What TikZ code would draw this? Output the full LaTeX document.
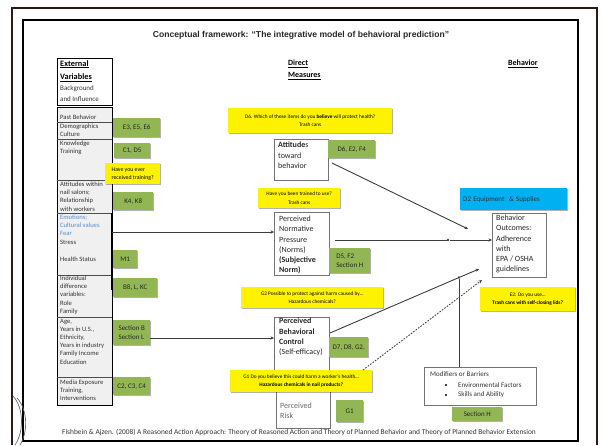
\documentclass[tikz,border=0pt]{standalone}
\usepackage{fontspec}
\setmainfont{Carlito}
\newfontfamily\arialf{Liberation Sans}
\usetikzlibrary{arrows.meta,shadows}
\definecolor{gcol}{RGB}{146,182,84}
\definecolor{bcol}{RGB}{0,176,240}
\definecolor{lgray}{RGB}{240,240,240}
\definecolor{bluet}{RGB}{84,141,212}
\definecolor{framec}{RGB}{45,25,25}
\definecolor{linec}{RGB}{60,60,60}
\begin{document}
\begin{tikzpicture}[x=1pt,y=-1pt]
\tikzset{
  shadowed/.style={drop shadow={shadow xshift=1pt,shadow yshift=-1pt,opacity=0.3,fill=black}},
  gbox/.style={shadowed, fill=gcol, anchor=north west, inner sep=0pt, font=\fontsize{7}{9}\selectfont, align=center, text=black!85},
  ybox/.style={shadowed, fill=yellow, anchor=north west, inner sep=0pt, font=\fontsize{5.3}{8.5}\selectfont, align=center},
  wbox/.style={draw=black!55, line width=0.6pt, fill=white, anchor=north west, inner sep=0pt},
  ltext/.style={anchor=north west, inner sep=0pt, font=\fontsize{6.6}{8.2}\selectfont, align=left, text=black!80},
  btext/.style={anchor=north west, inner sep=0pt, font=\fontsize{8}{10.2}\selectfont, align=left, text=black!85},
  conn/.style={draw=linec, line width=0.9pt},
  arr/.style={conn, -{Stealth[length=3.5pt,width=3.2pt]}},
  jdot/.style={circle, fill=linec, inner sep=0pt, minimum size=2.6pt},
  bdot/.style={circle, fill=black, inner sep=0pt, minimum size=2.4pt}
}
\useasboundingbox (0,0) rectangle (602,445);
% slide frame
\draw[framec, line width=2pt] (12,445) -- (12,8) -- (597,8) -- (597,445);
\draw[black, line width=1.3pt] (23,20) rectangle (578,441);
\draw[black!60, line width=0.7pt] (13,396) .. controls (24,408) and (24,432) .. (15,445);
\draw[black!60, line width=0.7pt] (17,398) .. controls (28,410) and (28,432) .. (20,445);

% title
\node[font=\arialf\bfseries\fontsize{8.6}{10}\selectfont, text=black!85] (title) at (301,35) {Conceptual framework: “The integrative model of behavioral prediction”};

% left column
\node[draw, line width=1.4pt, fill=white, anchor=north west, inner sep=0pt, minimum width=55pt, minimum height=47pt] (exthead) at (57,58) {};
\node[draw, line width=1.4pt, fill=lgray, anchor=north west, inner sep=0pt, minimum width=55pt, minimum height=298pt] (extcol) at (57,107) {};
\foreach \yy in {122,139,180,213,275,317,377}
  \draw[black!70, line width=0.6pt] (57,\yy) -- (112,\yy);
\draw[black, line width=1.6pt] (112,213) -- (112,290);

\node[anchor=north west, inner sep=0pt, font=\bfseries\fontsize{8.3}{13.5}\selectfont, align=left] (exth1) at (60,60) {\underline{External}\\\underline{Variables}};
\node[anchor=north west, inner sep=0pt, font=\fontsize{7}{11}\selectfont, align=left, text=black!80] (exth2) at (60,85.5) {Background\\and Influence};

\node[ltext] (t1) at (60,114.7) {Past Behavior};
\node[ltext] (t2) at (60,123.7) {Demographics\\Culture};
\node[ltext] (t3) at (60,140.7) {Knowledge\\Training};
\node[ltext] (t4) at (60,181.7) {Attitudes within\\nail salons;\\Relationship\\with workers};
\node[ltext] (t5) at (60,214.7) {{\color{bluet}Emotions;}\\{\color{bluet}Cultural values}\\{\color{bluet}Fear}\\Stress};
\node[ltext] (t6) at (60,256.7) {Health Status};
\node[ltext] (t7) at (60,275.7) {Individual\\difference\\variables:\\Role\\Family};
\node[ltext] (t8) at (60,318.7) {Age,\\Years in U.S.,\\Ethnicity,\\Years in industry\\Family Income\\Education};
\node[ltext] (t9) at (60,379.7) {Media Exposure\\Training,\\Interventions};

% left green / yellow boxes
\node[gbox, minimum width=47pt, minimum height=19pt] (gE) at (113,118) {E3, E5, E6};
\node[gbox, minimum width=36pt, minimum height=15pt] (gC) at (114,143) {C1, D5};
\node[ybox, minimum width=55pt, minimum height=21pt, font=\fontsize{5.8}{8}\selectfont, align=left] (yTr) at (105,163) {Have you ever\\received training?};
\node[gbox, minimum width=40pt, minimum height=18pt] (gK) at (113,192) {K4, K8};
\node[gbox, minimum width=24pt, minimum height=18pt] (gM) at (113,250) {M1};
\node[gbox, minimum width=44pt, minimum height=19pt] (gB) at (113,278) {B8, L, KC};
\node[gbox, minimum width=37pt, minimum height=25pt, align=left] (gS) at (113,320) {Section B\\Section L};
\node[gbox, minimum width=37pt, minimum height=18pt] (gC2) at (113,377) {C2, C3, C4};

% headings
\node[anchor=north west, inner sep=0pt, font=\bfseries\fontsize{8}{11.5}\selectfont, align=left] (dm) at (288,60) {\underline{Direct}\\\underline{Measures}};
\node[anchor=north west, inner sep=0pt, font=\bfseries\fontsize{8}{11.5}\selectfont] (bh) at (508,60) {\underline{Behavior}};

% middle column
\node[ybox, minimum width=164pt, minimum height=25pt] (yD6) at (228,108) {D6. Which of these items do you \textbf{believe} will protect health?\\Trash cans};
\node[wbox, minimum width=54pt, minimum height=41pt] (att) at (274,139) {};
\node[btext] (attT) at (278,142) {\textbf{Attitude}s\\toward\\behavior};
\node[gbox, minimum width=47pt, minimum height=18pt] (gD6) at (328,140) {D6, E2, F4};

\node[ybox, minimum width=82pt, minimum height=20pt] (yTu) at (258,188) {Have you been trained to use?\\Trash cans};
\node[wbox, minimum width=55pt, minimum height=63pt] (norm) at (274,212) {};
\node[btext] (normT) at (279,216) {Perceived\\Normative\\Pressure\\(Norms)\\\textbf{(Subjective}\\\textbf{Norm)}};
\node[gbox, minimum width=41pt, minimum height=25pt, align=left] (gD5) at (329,248) {D5, F2\\Section H};

\node[wbox, minimum width=55pt, minimum height=66pt] (pbc) at (274,317) {};
\node[btext] (pbcT) at (279,318) {\textbf{Perceived}\\\textbf{Behavioral}\\\textbf{Control}\\(Self-efficacy)};
\node[gbox, minimum width=39pt, minimum height=20pt] (gD7) at (329,337) {D7, D8, G2,};
\node[ybox, minimum width=142pt, minimum height=21pt] (yG2) at (241,287) {G2 Possible to protect against harm caused by…\\Hazardous chemicals?};

\node[wbox, minimum width=54pt, minimum height=44pt] (risk) at (276,384) {};
\node[btext, text=black!60] (riskT) at (280,403) {Perceived\\Risk};
\node[gbox, minimum width=27pt, minimum height=22pt] (gG1) at (336,400) {G1};
\node[ybox, minimum width=142pt, minimum height=22pt] (yG1) at (230,370) {G1 Do you believe this could harm a worker’s health…\\\textbf{Hazardous chemicals in nail products?}};

% right column
\node[shadowed, fill=bcol, anchor=north west, inner sep=0pt, minimum width=107pt, minimum height=22pt, text width=101pt, align=left, font=\fontsize{7}{9}\selectfont, text=black!80] (blue) at (460,188) {D2 Equipment \ \& Supplies};
\node[wbox, minimum width=54pt, minimum height=64pt] (beh) at (492,213) {};
\node[btext] (behT) at (496,215) {Behavior\\Outcomes:\\Adherence\\with\\EPA / OSHA\\guidelines};
\node[ybox, minimum width=95pt, minimum height=24pt] (yE2) at (480,287) {E2: Do you use…\\\textbf{Trash cans with self-closing lids?}};

\node[wbox, minimum width=112pt, minimum height=38pt] (mod) at (424,367) {};
\node[anchor=north west, inner sep=0pt, font=\fontsize{7}{10}\selectfont, text=black!80] (modT) at (430,371.5) {Modifiers or Barriers};
\node[bdot] (b1) at (446,385) {};
\node[bdot] (b2) at (446,395) {};
\node[anchor=west, inner sep=0pt, font=\fontsize{7}{10}\selectfont, text=black!80] (m1) at (458,385) {Environmental Factors};
\node[anchor=west, inner sep=0pt, font=\fontsize{7}{10}\selectfont, text=black!80] (m2) at (458,395) {Skills and Ability};
\node[gbox, minimum width=50pt, minimum height=14pt] (gH) at (452,407) {Section H};

% connectors
\coordinate (lc1) at (112,232);
\draw[arr] (lc1) -- (lc1 -| norm.west);
\coordinate (lc2) at (150,338);
\draw[arr] (lc2) -- (lc2 -| pbc.west);

\coordinate (aS) at (332,163);
\coordinate (aE) at (468,229);
\draw[arr] (aS) -- (aE);

\coordinate (nS) at (335,240);
\node[jdot] (nD) at (448,240) {};
\draw[conn] (nS) -- (nD);
\draw[arr] (nD) -- (nD -| beh.west);

\coordinate (pS) at (330,333);
\node[jdot] (pD) at (459,277.5) {};
\coordinate (pE) at (479,269);
\draw[conn] (pS) -- (pD);
\draw[arr] (pD) -- (pE);
\draw[conn] (mod.north -| pD) -- (pD);

\coordinate (dS) at (363,370);
\coordinate (dE) at (482,280);
\draw[arr, dash pattern=on 1.6pt off 1.4pt] (dS) -- (dE);

% footer
\node[font=\fontsize{7.4}{9}\selectfont, text=black!80] (foot) at (299,432) {Fishbein \& Ajzen. (2008) A Reasoned Action Approach: Theory of Reasoned Action and Theory of Planned Behavior and Theory of Planned Behavior Extension};
\end{tikzpicture}
\end{document}
